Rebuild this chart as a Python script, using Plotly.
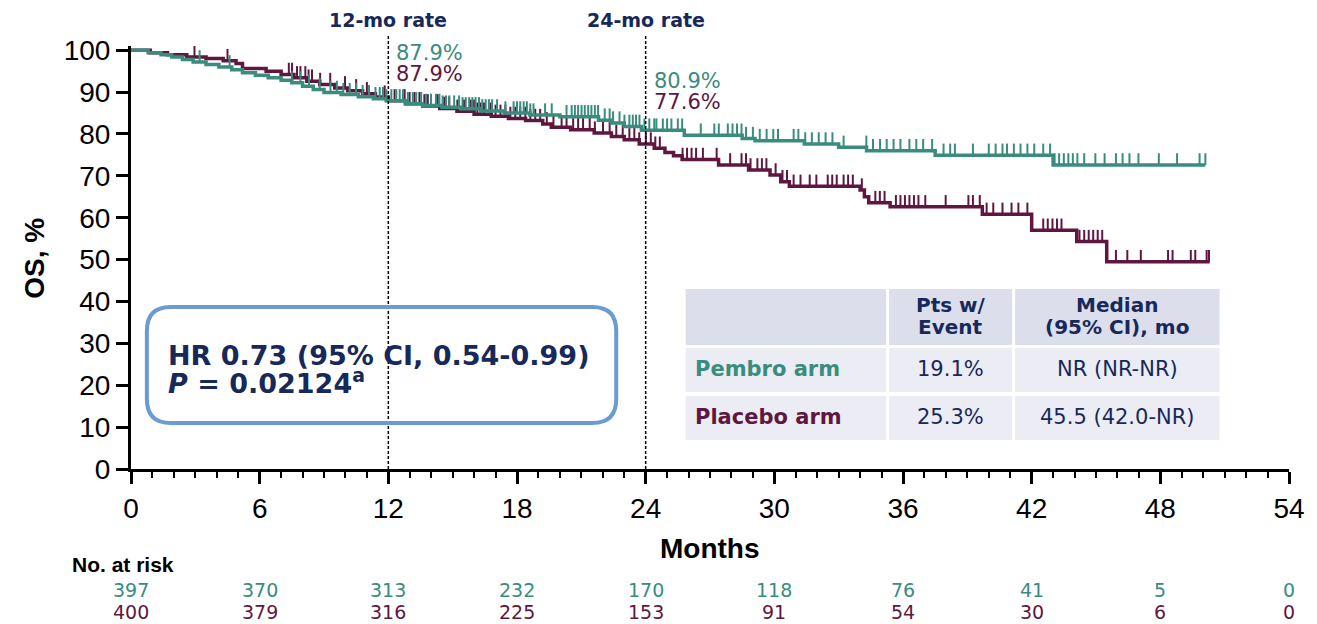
import numpy as np
import plotly.graph_objects as go

# ---------------- data ----------------
pembro_times = [0, 0.8, 1.4, 1.9, 2.4, 2.9, 3.5, 4.1, 4.7, 5.2, 5.8, 6.4, 7.0, 7.5, 8.0, 8.5, 9.0, 9.8,
                10.6, 11.3, 11.9, 12.8, 13.6, 14.5, 15.4, 16.3, 17.4, 18.6, 20.0, 21.8, 22.4, 23.0, 23.8,
                25.8, 28.5, 29.1, 31.4, 33.0, 34.3, 37.5, 43.0]
pembro_surv = [100, 99.4, 98.9, 98.4, 97.8, 97.2, 96.6, 96.0, 95.3, 94.6, 94.0, 93.4, 92.8, 92.2, 91.4,
               90.6, 89.9, 89.4, 88.9, 88.4, 87.9, 87.2, 86.8, 86.4, 86.0, 85.5, 85.0, 84.5, 84.1, 83.3,
               82.6, 81.8, 80.9, 79.7, 78.9, 78.4, 77.6, 76.8, 76.0, 74.9, 72.6]
pembro_end = 50.1
pembro_censor = [3.2, 4.6, 7.5, 7.9, 8.3, 8.8, 9.3, 9.6, 9.9, 10.2, 10.5, 10.8, 11.1, 11.4,
                 11.6, 11.75, 11.91, 12.14, 12.37, 12.53, 12.68, 12.91, 13.14, 13.3, 13.53, 13.76, 13.99,
                 14.22, 14.38, 14.53, 14.69, 14.84, 15.07, 15.3, 15.46, 15.61, 15.77, 15.92, 16.07, 16.23,
                 16.38, 16.54, 16.69, 16.84, 17.07, 17.46, 17.84, 18.0, 18.15, 18.31, 18.46, 18.62, 18.77,
                 19.31, 19.62, 20.31, 20.55, 20.7, 20.85, 21.01, 21.16, 21.32, 21.47, 21.63, 21.78, 22.09,
                 22.32, 22.48, 22.78, 23.01, 23.24, 23.4, 23.55, 23.71, 23.94, 24.17, 24.4,
                 24.5, 24.8, 25.0, 25.2, 25.5, 25.7, 26.57, 27.2, 27.41, 27.83, 28.05, 28.26, 28.47, 28.68,
                 29.0, 29.32, 29.64, 29.95, 30.17, 30.9, 31.12, 31.44, 31.75, 32.07, 32.39, 32.71, 33.23,
                 34.29, 34.6, 34.93, 35.24, 35.56, 35.88, 36.3, 36.62, 36.94, 37.36, 37.89, 38.2, 38.42,
                 39.26, 40.0, 40.32, 40.64, 40.85, 41.17, 41.48, 41.8, 42.12, 42.54, 42.86, 43.07, 43.28,
                 43.5, 43.71, 43.92, 44.13, 44.45, 44.97, 45.4, 45.93, 46.24, 46.56, 46.98, 47.93, 48.78,
                 49.83, 50.1]

placebo_times = [0, 0.9, 1.7, 2.6, 3.5, 4.3, 4.9, 5.2, 6.3, 7.0, 7.6, 8.2, 8.8, 9.5, 10.1, 10.8, 11.4,
                 12.0, 12.8, 13.6, 14.4, 15.2, 16.0, 16.8, 17.6, 18.4, 19.2, 19.6, 20.5, 21.6, 22.4, 23.0,
                 23.7, 24.4, 24.9, 25.3, 25.7, 27.4, 28.8, 29.8, 30.3, 30.7, 34.0, 34.2, 34.4, 35.4, 39.7,
                 42.0, 44.1, 45.5]
placebo_surv = [100, 99.4, 98.9, 98.4, 98.0, 97.5, 96.8, 95.6, 95.0, 94.2, 93.4, 92.6, 91.8, 91.0, 90.3,
                89.6, 88.8, 87.9, 87.2, 86.7, 86.1, 85.4, 84.7, 84.2, 83.7, 83.2, 82.4, 81.6, 81.0, 80.2,
                79.4, 78.6, 77.6, 76.6, 75.6, 74.8, 73.9, 72.6, 71.4, 70.2, 68.6, 67.5, 66.6, 65.0, 63.6,
                62.6, 60.8, 57.0, 54.3, 49.5]
placebo_end = 50.3
placebo_censor = [2.96, 4.5, 7.36, 7.51, 7.74, 7.9, 8.13, 8.28, 8.44, 8.82, 9.29, 9.98, 10.5, 11.0,
                  11.83, 12.29, 12.76, 12.99, 13.22, 13.45, 13.68, 13.84, 14.3, 14.61, 14.84, 15.22, 15.53,
                  15.84, 15.99, 16.15, 16.3, 16.46, 16.77, 17.0, 17.23, 17.46, 17.69, 17.92, 18.15, 18.39,
                  18.62, 18.85, 19.08, 19.39, 19.7, 20.08, 20.31, 20.62, 20.85, 21.08, 21.39, 21.63, 22.01,
                  22.32, 22.63, 22.93, 23.24, 23.47, 23.7, 24.01, 24.24,
                  24.45, 24.66, 25.72, 25.93, 26.14, 26.35, 26.67, 27.31, 27.94, 28.47, 28.68, 28.89, 29.21,
                  29.42, 29.63, 30.06, 30.38, 30.59, 30.9, 31.22, 31.65, 31.96, 32.49, 32.7, 32.91, 33.23,
                  33.44, 33.66, 34.08, 34.71, 34.92, 35.14, 35.67, 35.88, 36.09, 36.3, 36.51, 36.72, 37.04,
                  37.99, 39.05, 39.26, 39.58, 39.9, 40.21, 40.64, 41.06, 41.38, 41.8, 42.54, 42.75, 42.97,
                  43.18, 43.39, 44.23, 44.45, 44.66, 44.87, 45.08, 45.29, 45.93, 46.46, 47.09, 48.36, 48.57,
                  49.42, 49.63, 50.16, 50.27]

risk_months = [0, 6, 12, 18, 24, 30, 36, 42, 48, 54]
pembro_risk = [397, 370, 313, 232, 170, 118, 76, 41, 5, 0]
placebo_risk = [400, 379, 316, 225, 153, 91, 54, 30, 6, 0]

rate_months = [12, 24]
rate_labels = ["12-mo rate", "24-mo rate"]
pembro_rates = ["87.9%", "80.9%"]
placebo_rates = ["87.9%", "77.6%"]

table_header = ["", "Pts w/<br>Event", "Median<br>(95% CI), mo"]
table_arms = ["Pembro arm", "Placebo arm"]
table_events = ["19.1%", "25.3%"]
table_medians = ["NR (NR-NR)", "45.5 (42.0-NR)"]

hr_line1 = "HR 0.73 (95% CI, 0.54-0.99)"
hr_line2 = "<i>P</i> = 0.02124<sup>a</sup>"

# ---------------- style ----------------
TEAL = "#398c7e"
MAROON = "#5f173f"
NAVY = "#17295a"
W, H = 1317, 624
ML, MR, MT = 131, 19, 46
Y0PIX = 469                      # pixel row of y = 0
MB = H - Y0PIX
PW, PH = W - ML - MR, H - MT - MB
FONT = "DejaVu Sans"
ARIAL = "Liberation Sans, Arial"


def px(x):
    return (x - ML) / PW


def py(y):
    return (Y0PIX - y) / PH


def step_value(times, surv, t):
    i = np.searchsorted(np.asarray(times), t, side="right") - 1
    return np.asarray(surv)[i]


fig = go.Figure()

arms = [
    (placebo_times, placebo_surv, placebo_end, placebo_censor, MAROON, "Placebo"),
    (pembro_times, pembro_surv, pembro_end, pembro_censor, TEAL, "Pembro"),
]
for times, surv, end, cens, col, name in arms:
    fig.add_trace(go.Scatter(x=list(times) + [end], y=list(surv) + [surv[-1]], mode="lines",
                             line=dict(color=col, width=3.5, shape="hv"), name=name, showlegend=False))
    cx, cy = [], []
    for t in cens:
        s = float(step_value(times, surv, t))
        cx += [t, t, None]
        cy += [s, s + 2.8, None]
    fig.add_trace(go.Scatter(x=cx, y=cy, mode="lines", line=dict(color=col, width=2),
                             showlegend=False, hoverinfo="skip"))

shapes = []
for m in rate_months:
    shapes.append(dict(type="line", xref="x", yref="paper", x0=m, x1=m, y0=0, y1=py(35),
                       line=dict(color="black", width=1.5, dash="3px,2px")))

col_edges = [(690, 892), (895, 1019), (1022, 1228)]
row_edges = [(289, 345), (348, 392), (396, 440)]
for ri, (y0, y1) in enumerate(row_edges):
    fill = "#dcdeeb" if ri == 0 else "#ecedf4"
    for (x0, x1) in col_edges:
        shapes.append(dict(type="rect", xref="paper", yref="paper", x0=px(x0), x1=px(x1),
                           y0=py(y1), y1=py(y0), line=dict(width=0), fillcolor=fill, layer="below"))

bx0, by0, bx1, by1, r = 147, 307, 620, 423, 24
path = (f"M {px(bx0 + r)},{py(by0)} L {px(bx1 - r)},{py(by0)} "
        f"Q {px(bx1)},{py(by0)} {px(bx1)},{py(by0 + r)} L {px(bx1)},{py(by1 - r)} "
        f"Q {px(bx1)},{py(by1)} {px(bx1 - r)},{py(by1)} L {px(bx0 + r)},{py(by1)} "
        f"Q {px(bx0)},{py(by1)} {px(bx0)},{py(by1 - r)} L {px(bx0)},{py(by0 + r)} "
        f"Q {px(bx0)},{py(by0)} {px(bx0 + r)},{py(by0)} Z")
shapes.append(dict(type="path", xref="paper", yref="paper", path=path,
                   line=dict(color="#6b9bd2", width=4), fillcolor="rgba(255,255,255,0)"))

ann = []


def text(x, y, s, size, color, bold=False, xanchor="center", xref="paper", font=FONT):
    ann.append(dict(x=x, y=y, xref=xref, yref="paper", text=(f"<b>{s}</b>" if bold else s),
                    showarrow=False, xanchor=xanchor, yanchor="middle",
                    font=dict(family=font, size=size, color=color)))


for m, lab in zip(rate_months, rate_labels):
    text(m, py(20), lab, 19, NAVY, bold=True, xref="x")
for m, pr, plr, (y1, y2) in zip(rate_months, pembro_rates, placebo_rates, [(53, 74), (81, 102)]):
    xpix = ML + m / 54 * PW + 6
    text(px(xpix), py(y1), pr, 21, TEAL, xanchor="left")
    text(px(xpix), py(y2), plr, 21, MAROON, xanchor="left")

text(px(166), py(355), hr_line1, 27, NAVY, bold=True, xanchor="left")
text(px(166), py(381), hr_line2, 27, NAVY, bold=True, xanchor="left")

for (cx0, cx1), h in zip(col_edges[1:], table_header[1:]):
    l1, l2 = h.split("<br>")
    text(px((cx0 + cx1) / 2), py(305), l1, 20, NAVY, bold=True)
    text(px((cx0 + cx1) / 2), py(327), l2, 20, NAVY, bold=True)
for arm, ev, med, col, yy in zip(table_arms, table_events, table_medians, [TEAL, MAROON], [369, 417]):
    text(px(697), py(yy), arm, 21, col, bold=True, xanchor="left")
    text(px((col_edges[1][0] + col_edges[1][1]) / 2), py(yy), ev, 21, NAVY)
    text(px((col_edges[2][0] + col_edges[2][1]) / 2), py(yy), med, 21, NAVY)

text(px(715), py(548), "Months", 28, "black", bold=True, font=ARIAL)
ann.append(dict(x=px(33), y=py(258), xref="paper", yref="paper", text="<b>OS, %</b>", showarrow=False,
                textangle=-90, xanchor="center", yanchor="middle",
                font=dict(family=ARIAL, size=28, color="black")))

text(px(70), py(564), "No. at risk", 21, "black", bold=True, xanchor="left", font=ARIAL)
for m, a, b in zip(risk_months, pembro_risk, placebo_risk):
    text(m, py(590), str(a), 19, TEAL, xref="x")
    text(m, py(612), str(b), 19, MAROON, xref="x")

fig.update_layout(
    width=W, height=H, margin=dict(l=ML, r=MR, t=MT, b=MB, pad=0),
    paper_bgcolor="white", plot_bgcolor="white", showlegend=False,
    shapes=shapes, annotations=ann,
    xaxis=dict(range=[0, 54], tickmode="array", tickvals=risk_months, ticks="outside", ticklen=12,
               tickwidth=3, tickcolor="black", showline=True, linewidth=3, linecolor="black",
               showgrid=False, zeroline=False, tickfont=dict(family=ARIAL, size=28, color="black"),
               minor=dict(dtick=1, tick0=0, ticks="outside", ticklen=6, tickwidth=2, tickcolor="black")),
    yaxis=dict(range=[0, 101], tickmode="array", tickvals=list(range(0, 101, 10)), ticks="outside",
               ticklen=12, tickwidth=3, tickcolor="black", showline=True, linewidth=3,
               linecolor="black", showgrid=False, zeroline=False,
               tickfont=dict(family=ARIAL, size=28, color="black")),
)

fig.write_html("out.html")
